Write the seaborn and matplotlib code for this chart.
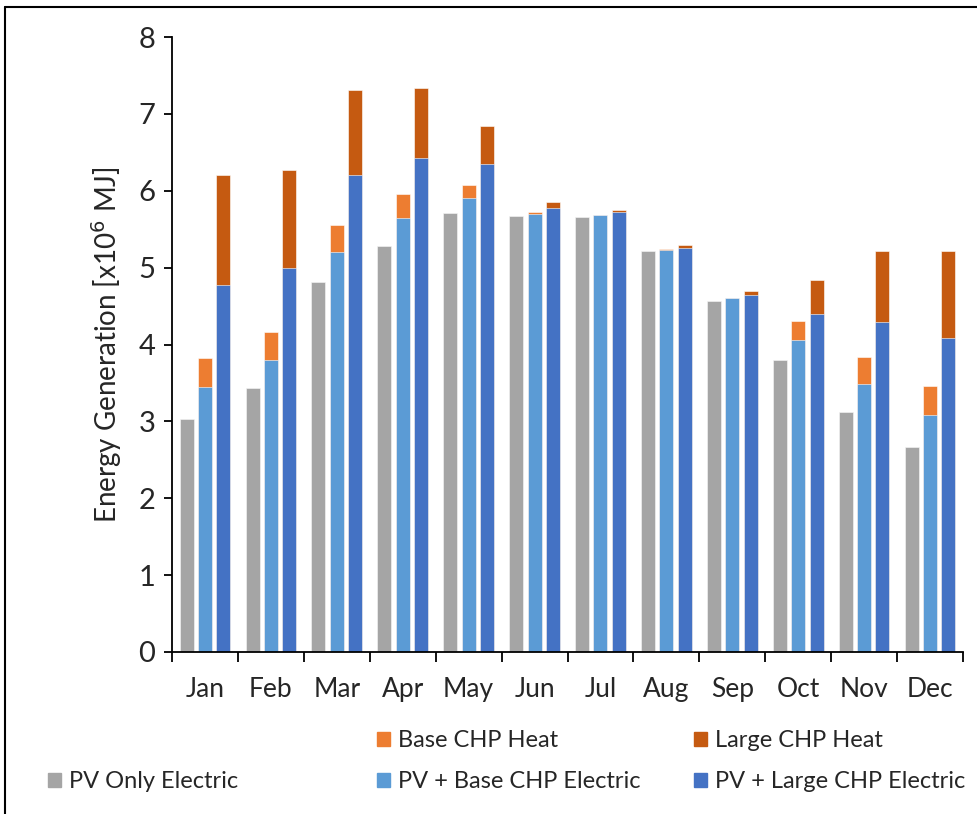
import matplotlib
matplotlib.use("Agg")
import matplotlib.pyplot as plt
from matplotlib.patches import Patch
from matplotlib.lines import Line2D
import seaborn as sns
import pandas as pd

months = ["Jan", "Feb", "Mar", "Apr", "May", "Jun",
          "Jul", "Aug", "Sep", "Oct", "Nov", "Dec"]

# Monthly energy generation, x10^6 MJ
pv_only_elec = [3.03, 3.43, 4.81, 5.28, 5.71, 5.67, 5.66, 5.21, 4.57, 3.80, 3.12, 2.67]
pv_base_elec = [3.45, 3.80, 5.20, 5.64, 5.90, 5.70, 5.68, 5.225, 4.60, 4.06, 3.49, 3.08]
base_heat = [0.38, 0.36, 0.36, 0.32, 0.17, 0.02, 0.01, 0.015, 0.01, 0.24, 0.35, 0.38]
pv_large_elec = [4.78, 5.00, 6.20, 6.43, 6.35, 5.775, 5.72, 5.26, 4.64, 4.40, 4.29, 4.09]
large_heat = [1.42, 1.27, 1.11, 0.91, 0.49, 0.075, 0.03, 0.035, 0.06, 0.44, 0.93, 1.13]

configs = ["PV Only", "PV + Base CHP", "PV + Large CHP"]

rows = []
for i, m in enumerate(months):
    rows.append((m, configs[0], pv_only_elec[i], 0.0))
    rows.append((m, configs[1], pv_base_elec[i], base_heat[i]))
    rows.append((m, configs[2], pv_large_elec[i], large_heat[i]))
df = pd.DataFrame(rows, columns=["month", "config", "electric", "heat"])
df["total"] = df["electric"] + df["heat"]

GRAY = "#A5A5A5"
LBLUE = "#5B9BD5"
DBLUE = "#4472C4"
ORANGE = "#ED7D31"
DORANGE = "#C55A11"

sns.set_style("white")
plt.rcParams["font.family"] = ["Lato", "DejaVu Sans"]

fig = plt.figure(figsize=(9.77, 8.14), dpi=100)
ax = fig.add_axes([172 / 977, 1 - 652 / 814, (963 - 172) / 977, (652 - 37) / 814])

bar_kw = dict(x="month", hue="config", hue_order=configs, order=months,
              errorbar=None, width=0.834, gap=0.236, saturation=1,
              legend=False, ax=ax, edgecolor="white", linewidth=0.4)

# stacked: totals (heat on top) first, electric overlaid
sns.barplot(data=df, y="total", palette=[GRAY, ORANGE, DORANGE], **bar_kw)
sns.barplot(data=df, y="electric", palette=[GRAY, LBLUE, DBLUE], **bar_kw)

ax.set_ylim(0, 8)
ax.set_xlim(-0.5, 11.5)
ax.set_yticks(range(0, 9))
ax.set_xlabel("")
ax.set_ylabel("Energy Generation [x10$^6$ MJ]", fontsize=20, labelpad=10)

for s in ["top", "right"]:
    ax.spines[s].set_visible(False)
for s in ["left", "bottom"]:
    ax.spines[s].set_color("black")
    ax.spines[s].set_linewidth(1.3)

ax.tick_params(axis="y", which="major", direction="out", length=6, width=1.3,
               color="black", labelsize=21, pad=6, left=True)
ax.set_xticks(range(12))
ax.set_xticklabels(months)
ax.tick_params(axis="x", which="major", length=0, labelsize=19, pad=18)
ax.set_xticks([i - 0.5 for i in range(13)], minor=True)
ax.tick_params(axis="x", which="minor", direction="out", length=7, width=1.3,
               color="black", bottom=True)

# legend laid out as three equal columns
lkw = dict(frameon=False, fontsize=17, handlelength=0.55, handleheight=0.55,
           handletextpad=0.35, labelspacing=0.85, loc="upper left",
           borderaxespad=0, borderpad=0)
blank = Patch(facecolor="none", edgecolor="none")
fig.legend([blank, Patch(color=GRAY)], [" ", "PV Only Electric"],
           bbox_to_anchor=(48 / 977, 1 - 730 / 814), **lkw)
fig.legend([Patch(color=ORANGE), Patch(color=LBLUE)],
           ["Base CHP Heat", "PV + Base CHP Electric"],
           bbox_to_anchor=(377 / 977, 1 - 730 / 814), **lkw)
fig.legend([Patch(color=DORANGE), Patch(color=DBLUE)],
           ["Large CHP Heat", "PV + Large CHP Electric"],
           bbox_to_anchor=(694 / 977, 1 - 730 / 814), **lkw)

# outer frame (left and top edges)
fig.add_artist(Line2D([5 / 977, 5 / 977], [0, 1 - 7 / 814], transform=fig.transFigure,
                      color="black", linewidth=1.5))
fig.add_artist(Line2D([5 / 977, 1], [1 - 7 / 814, 1 - 7 / 814], transform=fig.transFigure,
                      color="black", linewidth=1.5))

fig.savefig("out.png", dpi=100)
